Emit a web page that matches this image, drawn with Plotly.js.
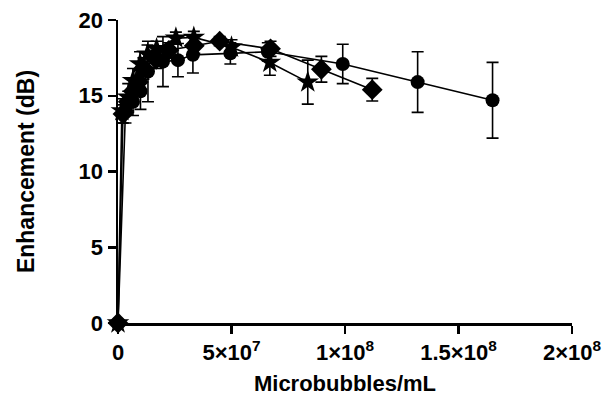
<!DOCTYPE html>
<html><head><meta charset="utf-8">
<script src="https://cdn.plot.ly/plotly-3.0.1.min.js"></script>
<style>html,body{margin:0;padding:0;background:#fff}#chart{width:603px;height:398px}</style>
</head><body><div id="chart"></div>
<script>
// Circle series
const circX = [0, 0.033e8, 0.066e8, 0.099e8, 0.132e8, 0.198e8, 0.264e8, 0.33e8, 0.495e8, 0.66e8, 0.99e8, 1.32e8, 1.65e8];
const circY = [0, 14.0, 14.6, 15.3, 16.6, 17.25, 17.35, 17.7, 17.8, 17.9, 17.1, 15.9, 14.7];
const circE = [0, 0.8, 0.9, 1.2, 2.0, 1.65, 1.1, 1.2, 0.7, 0.6, 1.3, 2.0, 2.5];
// Diamond series
const diamX = [0, 0.022e8, 0.045e8, 0.067e8, 0.09e8, 0.112e8, 0.168e8, 0.224e8, 0.336e8, 0.448e8, 0.672e8, 0.896e8, 1.12e8];
const diamY = [0, 13.8, 14.6, 15.3, 15.9, 16.8, 17.4, 18.0, 18.3, 18.6, 18.1, 16.75, 15.4];
const diamE = [0, 0.6, 0.7, 0.8, 0.8, 0.7, 0.6, 0.5, 0.5, 0.3, 0.5, 0.85, 0.75];
// Star series
const starX = [0, 0.017e8, 0.045e8, 0.066e8, 0.097e8, 0.13e8, 0.17e8, 0.255e8, 0.334e8, 0.50e8, 0.669e8, 0.836e8];
const starY = [0, 14.0, 14.9, 16.0, 17.1, 17.75, 18.1, 18.8, 18.85, 18.2, 17.2, 15.9];
const starE = [0, 0.8, 0.9, 0.8, 0.8, 0.6, 0.5, 0.4, 0.4, 0.5, 0.85, 1.45];

const xTicks = [0, 5e7, 1e8, 1.5e8, 2e8];
const xTickText = ['0', '5×10<sup>7</sup>', '1×10<sup>8</sup>', '1.5×10<sup>8</sup>', '2×10<sup>8</sup>'];
const yTicks = [0, 5, 10, 15, 20];

function series(x, y, e, sym, size) {
  return {
    x: x, y: y, type: 'scatter', mode: 'lines+markers', cliponaxis: false,
    line: {color: '#000', width: 1.6},
    marker: {symbol: sym, size: size, color: '#000'},
    error_y: {type: 'data', array: e, visible: true, color: '#000', thickness: 1.6, width: 6}
  };
}
const data = [
  series(circX, circY, circE, 'circle', 14),
  series(diamX, diamY, diamE, 'diamond', 16),
  series(starX, starY, starE, 'star', 17)
];
const fnt = {family: 'Arial, "Liberation Sans", sans-serif', color: '#000', weight: 'bold'};
const layout = {
  width: 603, height: 398,
  margin: {l: 118, r: 31, t: 20, b: 75, pad: 0},
  paper_bgcolor: '#fff', plot_bgcolor: '#fff',
  showlegend: false,
  font: fnt,
  xaxis: {
    range: [0, 2e8], tickvals: xTicks, ticktext: xTickText,
    showgrid: false, zeroline: false, showline: true, linecolor: '#000', linewidth: 2.5,
    ticks: 'outside', ticklen: 8, tickwidth: 2.5, tickcolor: '#000',
    tickfont: Object.assign({}, fnt, {size: 22}),
    title: {text: 'Microbubbles/mL', font: Object.assign({}, fnt, {size: 22}), standoff: 12}
  },
  yaxis: {
    range: [0, 20], tickvals: yTicks,
    showgrid: false, zeroline: false, showline: true, linecolor: '#000', linewidth: 2.5,
    ticks: 'outside', ticklen: 8, tickwidth: 2.5, tickcolor: '#000',
    tickfont: Object.assign({}, fnt, {size: 22}),
    title: {text: 'Enhancement (dB)', font: Object.assign({}, fnt, {size: 23}), standoff: 38}
  }
};
Plotly.newPlot('chart', data, layout, {displayModeBar: false, staticPlot: true});
</script>
</body></html>
